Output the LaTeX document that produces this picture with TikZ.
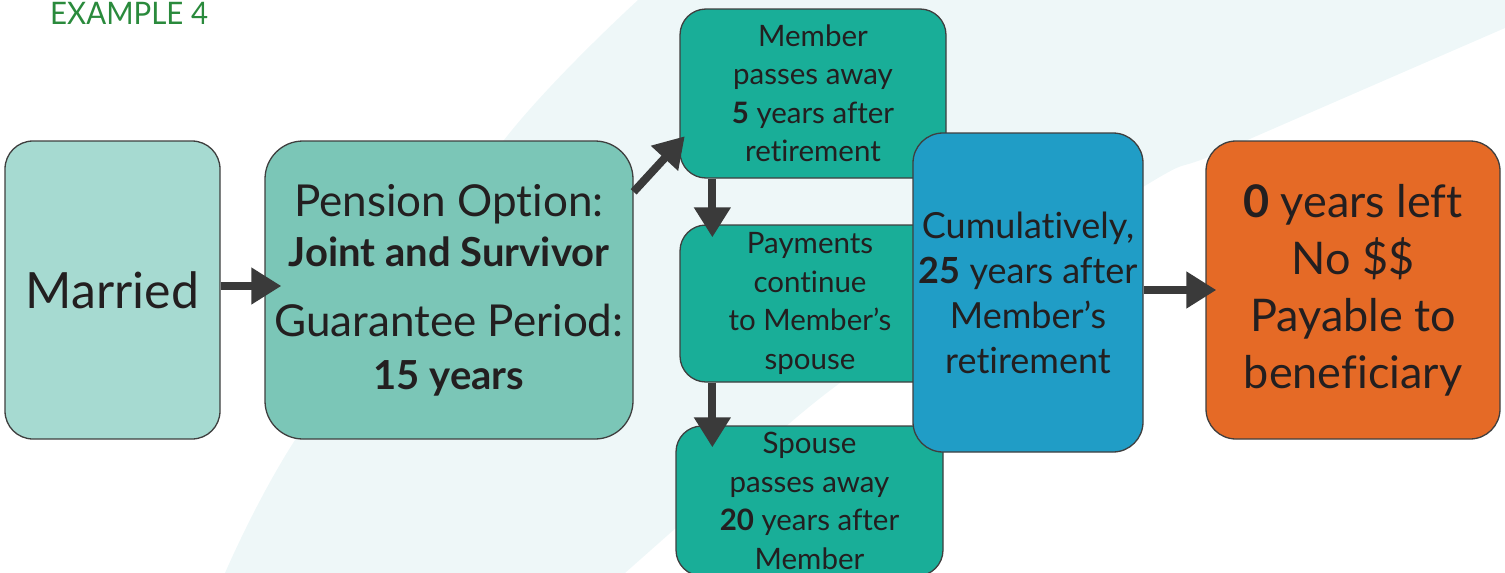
\documentclass[tikz,border=0pt]{standalone}
\usepackage{fontspec}
\setmainfont{Lato}[Ligatures=NoCommon]
\usetikzlibrary{arrows.meta,calc}
\definecolor{bandc}{HTML}{EEF7F8}
\definecolor{marc}{HTML}{A6DAD1}
\definecolor{penc}{HTML}{7BC6B7}
\definecolor{tealc}{HTML}{19AE98}
\definecolor{bluec}{HTML}{209DC6}
\definecolor{orac}{HTML}{E56A26}
\definecolor{edgec}{HTML}{3F3F3F}
\definecolor{arrc}{HTML}{3A3A3A}
\definecolor{txtc}{HTML}{231F20}
\definecolor{greenc}{HTML}{2A8A3C}
\tikzset{
  boxbase/.style={draw=edgec, line width=1.3pt, rounded corners=28pt, align=center,
    text=txtc, inner sep=0pt},
  arr/.style={draw=arrc, line width=8pt, -{Triangle[length=30pt,width=35pt]}, color=arrc},
  smallfont/.style={font=\fontsize{29.5}{38.5}\selectfont},
}
\begin{document}
\begin{tikzpicture}[x=1pt,y=-1pt]
\useasboundingbox (0,0) rectangle (1505,573);
% background band
\fill[bandc] plot[smooth] coordinates {(638,0) (504,140) (295,440) (225,573)}
  -- plot[smooth] coordinates {(625,573) (677,527) (840,383) (1143,187) (1220,152) (1505,28)}
  -- (1505,0) -- cycle;
% title
\node[anchor=base west, text=greenc, inner sep=0pt, font=\fontsize{31}{31}\selectfont] (title) at (50,24) {\scalebox{0.95}[1]{EXAMPLE 4}};
% boxes
\node[boxbase, fill=marc, minimum width=215pt, minimum height=298pt, font=\fontsize{50}{50}\selectfont] (M) at (112.5,290) {Married};
\node[boxbase, fill=penc, rounded corners=38pt, minimum width=368pt, minimum height=298pt, font=\fontsize{44}{50}\selectfont] (P) at (449,290)
  {Pension Option:\\
   {\fontsize{40}{50}\selectfont\bfseries Joint and Survivor}\\[20pt]
   Guarantee Period:\\[3pt]
   {\fontsize{40}{50}\selectfont\bfseries 15 years}};
\node[boxbase, fill=tealc, rounded corners=26pt, minimum width=266pt, minimum height=169pt, smallfont] (A) at (813,93.5)
  {Member\\passes away\\\textbf{5} years after\\retirement};
\node[boxbase, fill=tealc, rounded corners=26pt, minimum width=260pt, minimum height=157pt, smallfont] (B) at (810,303.5)
  {Payments\\continue\\to Member’s\\spouse};
\node[boxbase, fill=tealc, rounded corners=26pt, minimum width=267pt, minimum height=150pt, smallfont] (C) at (809.5,501)
  {Spouse\\passes away\\\textbf{20} years after\\Member};
% connectors
\draw[arr, shorten >=-17pt] ([yshift=4pt]M.east) -- ([yshift=4pt]M.east -| P.west);
\draw[arr, shorten >=-8pt] (P.28.5) -- (A.200);
\draw[arr, shorten >=-13pt] ([xshift=33pt]A.south west) -- ([xshift=33pt]B.north west);
\draw[arr, shorten >=-22pt] ([xshift=33pt]B.south west) -- ([xshift=37pt]C.north west);
% blue box on top of the teal boxes
\node[boxbase, fill=bluec, rounded corners=30pt, minimum width=230pt, minimum height=319pt, font=\fontsize{36}{45}\selectfont] (U) at (1028,292.5)
  {Cumulatively,\\\textbf{25} years after\\Member’s\\retirement};
\node[boxbase, fill=orac, rounded corners=30pt, minimum width=294pt, minimum height=298pt, font=\fontsize{45}{57}\selectfont] (O) at (1353,290)
  {\textbf{0} years left\\No \$\$\\Payable to\\beneficiary};
\draw[arr, shorten >=-11pt] (O.west -| U.east) -- (O.west);
\end{tikzpicture}
\end{document}
